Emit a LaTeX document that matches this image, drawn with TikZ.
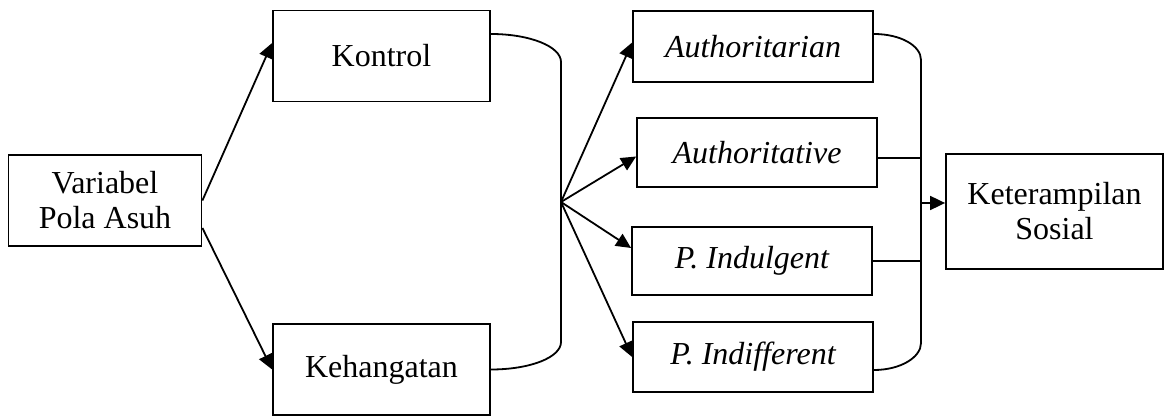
\documentclass[tikz,border=0pt]{standalone}
\usepackage{fontspec}
\setmainfont{Liberation Serif}
\usetikzlibrary{arrows.meta}

\tikzset{
  kotak/.style={draw, line width=0.9pt, inner sep=0pt, align=center,
    font=\fontsize{16}{17.5}\selectfont},
  gaya/.style={kotak, font=\fontsize{16}{17.5}\selectfont\itshape},
  panah/.style={-{Triangle[length=7.5pt,width=7pt]}}
}

\begin{document}
\begin{tikzpicture}[x=0.5pt, y=0.5pt, line width=0.9pt]
  \useasboundingbox (0,0) rectangle (1165,417);
  % variabel dan dimensi
  \node[kotak, minimum width=96.5pt, minimum height=45.5pt] (variabel) at (105,216.5) {Variabel\\Pola Asuh};
  \node[kotak, minimum width=108.5pt, minimum height=45.5pt] (kontrol) at (381.5,361) {Kontrol};
  \node[kotak, minimum width=108.5pt, minimum height=45.5pt] (kehangatan) at (381.5,47.5) {Kehangatan};
  % gaya pola asuh
  \foreach \nama/\teks/\x/\y/\h in {authoritarian/Authoritarian/753/370.5/35.5,
      authoritative/Authoritative/757/264.5/34.5,
      indulgent/P. Indulgent/752/156/34,
      indifferent/P. Indifferent/753/60/35} {
    \node[gaya, minimum width=120pt, minimum height=\h pt] (\nama) at (\x,\y) {\teks};
  }
  \node[kotak, minimum width=108.5pt, minimum height=57.5pt] (keterampilan) at (1054.5,205.5) {Keterampilan\\Sosial};

  \coordinate (cabang) at (561,215);
  \coordinate (gabung) at (921,214);

  \draw[panah] (variabel.east) -- ([yshift=6.5pt]kontrol.west);
  \draw[panah] ([yshift=-13.75pt]variabel.east) -- (kehangatan.west);

  \draw ([yshift=11pt]kontrol.east) .. controls +(39,0) and +(0,15.5) .. ([yshift=70pt]cabang)
    -- ([yshift=-70pt]cabang) .. controls +(0,-15.5) and +(39,0) .. (kehangatan.east);

  \foreach \tujuan/\geser in {authoritarian/2pt, authoritative/-2pt, indulgent/6.5pt, indifferent/0pt} {
    \draw[panah] (cabang) -- ([yshift=\geser]\tujuan.west);
  }

  \draw ([yshift=6.25pt]authoritarian.east) .. controls +(26.5,0) and +(0,14.4) .. ([yshift=71.5pt]gabung)
    -- ([yshift=-70pt]gabung) .. controls +(0,-14.4) and +(26.5,0) .. ([yshift=-6.5pt]indifferent.east);
  \draw ([yshift=-2.75pt]authoritative.east) -- ([yshift=-2.75pt]authoritative.east -| gabung);
  \draw (indulgent.east) -- (indulgent.east -| gabung);
  \draw[panah] (gabung) -- (gabung -| keterampilan.west);
\end{tikzpicture}
\end{document}
